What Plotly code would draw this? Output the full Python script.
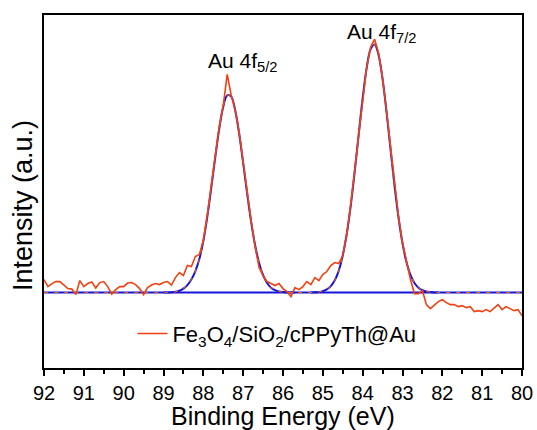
import numpy as np
import plotly.graph_objects as go

# Binding energy grid of the measured spectrum (92.0 -> 80.0 eV, 0.1 eV steps)
energy = np.round(np.linspace(92.0, 80.0, 121), 2)

intensity = [
    13, 6, 9, 11, 11, 7, 4, 3.5, -2, 12,
    6, 9, 10.5, 4.5, 10, 11, 6, -1.5, 3, 6,
    6, 9.5, 10, 8, 4, -2, 5, 7.5, 9, 8,
    10, 11, 7.5, 15, 20, 17, 27, 26, 36, 38,
    52, 78, 107, 138, 166, 187, 218, 197, 182, 160,
    130, 100, 72, 46, 25, 17, 11, 9, 7, 9,
    4, 1, -4, 5, 3, 6, 11, 8, 15, 12,
    18, 21, 27, 30, 29, 37, 58, 88, 122, 158,
    194, 225, 245, 253, 239, 214, 181, 144, 108, 76,
    50, 30, 13, -1, -1, 2, -12, -16, -12, -9,
    -7, -10, -12, -12, -14, -13, -15, -14, -19, -18,
    -19, -17, -19, -15, -12, -17, -14, -16, -18, -17,
    -23,
]

# Fitted component Au 4f5/2
fit_52_x = [89.0, 88.9, 88.8, 88.7, 88.6, 88.5, 88.4, 88.3, 88.2, 88.1,
            88.0, 87.9, 87.8, 87.7, 87.6, 87.5, 87.4, 87.3, 87.2, 87.1,
            87.0, 86.9, 86.8, 86.7, 86.6, 86.5, 86.4, 86.3, 86.2, 86.1,
            86.0, 85.9, 85.8, 85.7]
fit_52_y = [0, 0.1, 0.3, 0.8, 1.8, 4.0, 7.5, 13.0, 21.5, 33.5,
            51.5, 75.9, 104.8, 135.4, 163.8, 185.6, 197.0, 195.7, 182.0, 158.5,
            129.3, 98.8, 70.6, 47.3, 29.6, 17.4, 9.6, 4.9, 2.4, 1.1,
            0.5, 0.2, 0.1, 0]

# Fitted component Au 4f7/2
fit_72_x = [85.3, 85.2, 85.1, 85.0, 84.9, 84.8, 84.7, 84.6, 84.5, 84.4,
            84.3, 84.2, 84.1, 84.0, 83.9, 83.8, 83.7, 83.6, 83.5, 83.4,
            83.3, 83.2, 83.1, 83.0, 82.9, 82.8, 82.7, 82.6, 82.5, 82.4,
            82.3, 82.2, 82.1]
fit_72_y = [0.1, 0.3, 0.6, 1.5, 3.2, 6.5, 12.3, 22.0, 37.1, 58.5,
            86.7, 120.7, 158.0, 194.1, 224.1, 243.1, 247.7, 237.1, 213.2, 180.1,
            142.9, 106.5, 74.6, 49.1, 30.3, 17.6, 9.6, 4.9, 2.4, 1.1,
            0.5, 0.2, 0.1]

# Background line
bg_x = [92.0, 80.0]
bg_y = [0, 0]

x_ticks = list(range(80, 93))

RED = "#f2400f"
BLUE = "#1515d8"
FONT = "Arial, Liberation Sans, sans-serif"

fig = go.Figure()
fig.add_trace(go.Scatter(x=bg_x, y=bg_y, mode="lines",
                         line=dict(color=BLUE, width=2), showlegend=False))
fig.add_trace(go.Scatter(x=fit_52_x, y=fit_52_y, mode="lines",
                         line=dict(color=BLUE, width=2, shape="spline"), showlegend=False))
fig.add_trace(go.Scatter(x=fit_72_x, y=fit_72_y, mode="lines",
                         line=dict(color=BLUE, width=2, shape="spline"), showlegend=False))
env_x = [bg_x[0]] + fit_52_x + fit_72_x + [bg_x[1]]
env_y = [bg_y[0]] + fit_52_y + fit_72_y + [bg_y[1]]
fig.add_trace(go.Scatter(x=env_x, y=env_y, mode="lines",
                         line=dict(color="#ff6a10", width=1, dash="4px,6px", shape="spline"),
                         showlegend=False))
fig.add_trace(go.Scatter(x=energy, y=intensity, mode="lines",
                         line=dict(color=RED, width=1.6),
                         name="Fe<sub>3</sub>O<sub>4</sub>/SiO<sub>2</sub>/cPPyTh@Au"))

fig.add_annotation(x=87.9, y=230, xref="x", yref="y", xanchor="left", yanchor="middle",
                   text="Au 4f<sub>5/2</sub>", showarrow=False, borderpad=0,
                   font=dict(family=FONT, size=21, color="black"))
fig.add_annotation(x=84.41, y=259, xref="x", yref="y", xanchor="left", yanchor="middle",
                   text="Au 4f<sub>7/2</sub>", showarrow=False, borderpad=0,
                   font=dict(family=FONT, size=21, color="black"))
# axis titles
fig.add_annotation(x=-0.045, y=0.46, xref="paper", yref="paper", xanchor="center", yanchor="middle",
                   text="Intensity (a.u.)", textangle=-90, showarrow=False, borderpad=0,
                   font=dict(family=FONT, size=27, color="black"))
fig.add_annotation(x=0.5, y=-0.137, xref="paper", yref="paper", xanchor="center", yanchor="middle",
                   text="Binding Energy (eV)", showarrow=False, borderpad=0,
                   font=dict(family=FONT, size=25, color="black"))

fig.update_layout(
    width=537, height=430,
    margin=dict(l=44, r=15, t=15, b=62, autoexpand=False),
    paper_bgcolor="white", plot_bgcolor="white",
    font=dict(family=FONT, color="black"),
    legend=dict(x=0.185, y=0.097, xanchor="left", yanchor="middle",
                bgcolor="rgba(0,0,0,0)", font=dict(family=FONT, size=22, color="black")),
)
fig.update_xaxes(
    range=[92, 80], tickvals=x_ticks, ticks="outside", ticklen=6, tickwidth=2,
    tickcolor="black", showline=True, linewidth=2, linecolor="black", mirror=True,
    showgrid=False, zeroline=False, tickfont=dict(family=FONT, size=20, color="black"),
    minor=dict(dtick=0.5, tick0=80, ticks="outside", ticklen=4, tickwidth=1.5, tickcolor="black", showgrid=False),
    ticklabelstandoff=0, automargin=False,
)
fig.update_yaxes(
    range=[-75.3, 277.2], showticklabels=False, ticks="", showline=True, linewidth=2,
    linecolor="black", mirror=True, showgrid=False, zeroline=False,
    automargin=False,
)

fig.write_html("out.html", config={"displayModeBar": False},
               post_script="document.body.style.margin='0';")
